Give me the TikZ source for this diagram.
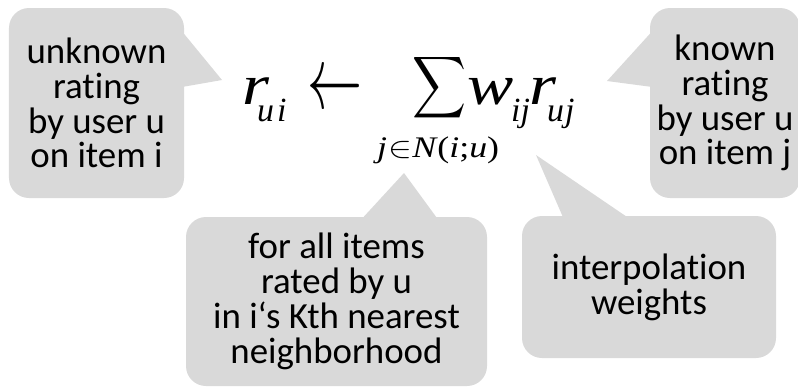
\documentclass[tikz,border=0pt]{standalone}
\usepackage{fontspec}
\usepackage{graphicx}
\setmainfont{Carlito}[Ligatures=NoCommon]
\newfontfamily\eqfont{Liberation Serif}
\usetikzlibrary{calc}
\definecolor{callgray}{HTML}{D9D9D9}
\newcommand\widen[1]{\scalebox{1.22}[1]{#1}}
\begin{document}
\begin{tikzpicture}[x=1bp,y=-1bp,
  callout/.style={fill=callgray, rounded corners=20bp, inner sep=0pt, align=center,
    font=\fontsize{37}{35}\selectfont},
  pointer/.style={fill=callgray},
  eq/.style={inner sep=0pt, anchor=base west, font=\eqfont\itshape\fontsize{57}{57}\selectfont},
  eqsub/.style={inner sep=0pt, anchor=base west, font=\eqfont\itshape\fontsize{34}{34}\selectfont},
  eqlim/.style={inner sep=0pt, anchor=base west, font=\eqfont\itshape\fontsize{30}{30}\selectfont}]
\clip (0,0) rectangle (798,388);
% callouts
\node[callout, minimum width=175bp, minimum height=190bp] (unk) at (96.5,103)
  {unknown\\rating\\by user u\\on item i};
\node[callout, minimum width=150bp, minimum height=190bp] (kn) at (725,103)
  {known\\rating\\by user u\\on item j};
\node[callout, minimum width=301bp, minimum height=169bp] (nb) at (336.5,301.5)
  {for all items\\rated by u\\in i‘s Kth nearest\\neighborhood};
\node[callout, minimum width=254bp, minimum height=142bp] (ip) at (649,287)
  {interpolation\\weights};
% pointer tips
\coordinate (unktip) at (222,80);
\coordinate (kntip) at (607,81);
\coordinate (nbtip) at (404,173);
\coordinate (iptip) at (536,155);
\fill[pointer] ($(unk.north east)+(-1,25)$) -- (unktip) -- ($(unk.north east)+(-1,79)$) -- cycle;
\fill[pointer] ($(kn.north west)+(1,25)$) -- (kntip) -- ($(kn.north west)+(1,79)$) -- cycle;
\fill[pointer] ($(nb.north west)+(177,1)$) -- (nbtip) -- ($(nb.north west)+(251,1)$) -- cycle;
\fill[pointer] ($(ip.north west)+(41,1)$) -- (iptip) -- ($(ip.north west)+(105,1)$) -- cycle;
% formula
\node[eq] (r1) at (242,104) {\widen{r}};
\node[eqsub] (r1sub) at (257,121) {u\kern3bp i};
\node[inner sep=0pt] (arrow) at (334.5,91.5) {\resizebox*{55bp}{33bp}{$\leftarrow$}};
\node[inner sep=0pt] (sum) at (440,87.5) {\resizebox*{54bp}{69bp}{$\displaystyle\sum$}};
\node[eq] (w) at (467,104) {\widen{w}};
\node[eqsub] (wsub) at (511,121) {ij};
\node[eq] (r2) at (529,104) {\widen{r}};
\node[eqsub] (r2sub) at (547,121) {u\kern1bp j};
\node[eqlim] (lim) at (377,157) {\scalebox{1.2}[1]{j\kern1bp\scalebox{3}{\fontsize{10}{12}\selectfont$\in$}N\kern1bp{\upshape(}i{\upshape;}u{\upshape)}}};
\end{tikzpicture}
\end{document}
